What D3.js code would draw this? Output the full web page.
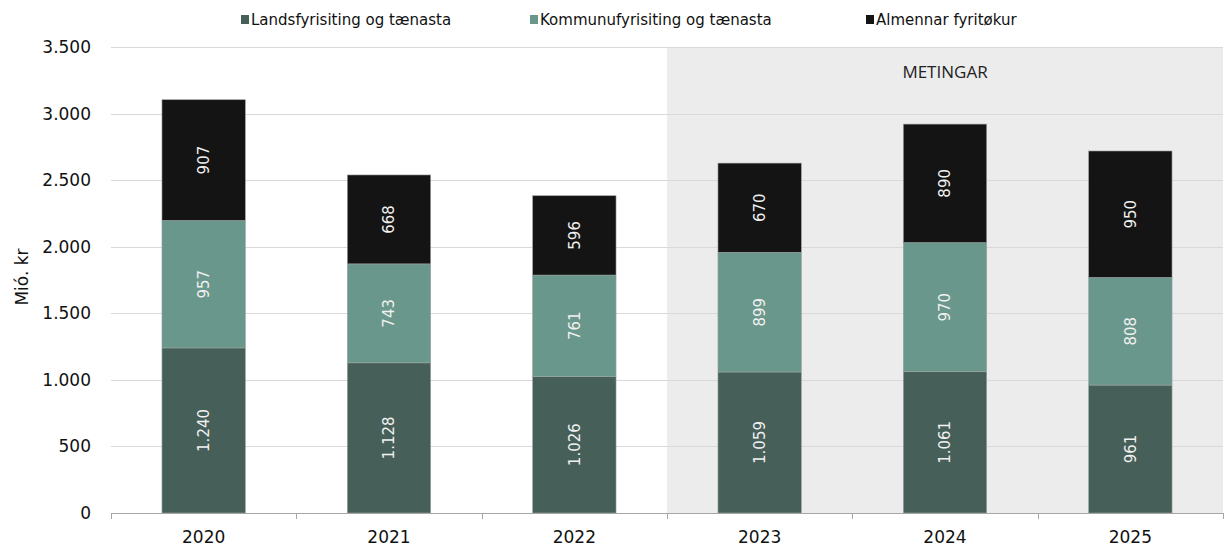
<!DOCTYPE html>
<html>
<head>
<meta charset="utf-8">
<script src="https://cdn.jsdelivr.net/npm/d3@7"></script>
<style>
  body { margin: 0; background: #fff; }
  svg { display: block; font-family: "DejaVu Sans", Verdana, sans-serif; }
</style>
</head>
<body>
<svg id="chart"></svg>
<script>
const years = ['2020', '2021', '2022', '2023', '2024', '2025'];
const seriesNames = ['Landsfyrisiting og tænasta', 'Kommunufyrisiting og tænasta', 'Almennar fyritøkur'];
const lands = [1240, 1128, 1026, 1059, 1061, 961];
const kommunu = [957, 743, 761, 899, 970, 808];
const almennar = [907, 668, 596, 670, 890, 950];
const yTicks = [0, 500, 1000, 1500, 2000, 2500, 3000, 3500];
const forecastYears = ['2023', '2024', '2025'];
const forecastLabel = 'METINGAR';

const colors = ['#465f59', '#6a978b', '#141414'];

const totalWidth = 1225, totalHeight = 546;
const margin = { top: 47, right: 2, bottom: 33, left: 111 };
const width = totalWidth - margin.left - margin.right;
const height = totalHeight - margin.top - margin.bottom;

const loc = d3.formatLocale({ decimal: ',', thousands: '.', grouping: [3], currency: ['', ''] });
const fmt = loc.format(',d');

const svg = d3.select('#chart')
    .attr('width', totalWidth)
    .attr('height', totalHeight);

const g = svg.append('g')
    .attr('transform', `translate(${margin.left},${margin.top})`);

const x = d3.scaleBand()
    .domain(years)
    .range([0, width])
    .paddingInner(0.55)
    .paddingOuter(0.275);

const step = x.step();

const y = d3.scaleLinear()
    .domain([0, 3500])
    .range([height, 0]);

// forecast shading
const shadeX = x(forecastYears[0]) - (step - x.bandwidth()) / 2;
g.append('rect')
    .attr('x', shadeX)
    .attr('y', 0)
    .attr('width', width - shadeX)
    .attr('height', height)
    .attr('fill', '#ececec');

g.append('text')
    .attr('x', shadeX + (width - shadeX) / 2)
    .attr('y', 31)
    .attr('text-anchor', 'middle')
    .attr('font-family', '"Open Sans", sans-serif')
    .attr('font-size', 17)
    .attr('fill', '#222')
    .text(forecastLabel);

// gridlines
g.append('g')
    .selectAll('line')
    .data(yTicks.filter(d => d > 0))
    .enter().append('line')
    .attr('x1', 0)
    .attr('x2', width)
    .attr('y1', d => Math.round(y(d)) + 0.5)
    .attr('y2', d => Math.round(y(d)) + 0.5)
    .attr('stroke', '#d9d9d9')
    .attr('stroke-width', 1);

// y axis labels
const yAxis = g.append('g')
    .call(d3.axisLeft(y).tickValues(yTicks).tickFormat(fmt).tickSize(0).tickPadding(20));
yAxis.select('.domain').remove();
yAxis.selectAll('text')
    .attr('font-family', '"DejaVu Sans", sans-serif')
    .attr('font-size', 17)
    .attr('fill', '#111');

// stacked data
const table = years.map((yr, i) => ({ year: yr, s0: lands[i], s1: kommunu[i], s2: almennar[i] }));
const stack = d3.stack().keys(['s0', 's1', 's2'])(table);

const layers = g.selectAll('.layer')
    .data(stack)
    .enter().append('g')
    .attr('class', 'layer')
    .attr('fill', (d, i) => colors[i]);

layers.selectAll('rect')
    .data(d => d)
    .enter().append('rect')
    .attr('x', d => x(d.data.year))
    .attr('y', d => y(d[1]))
    .attr('width', x.bandwidth())
    .attr('height', d => y(d[0]) - y(d[1]))
    .attr('stroke', '#9aa5a2')
    .attr('stroke-width', 0.6);

layers.selectAll('text')
    .data(d => d)
    .enter().append('text')
    .attr('transform', d => `translate(${x(d.data.year) + x.bandwidth() / 2},${(y(d[0]) + y(d[1])) / 2}) rotate(-90)`)
    .attr('text-anchor', 'middle')
    .attr('dy', '0.35em')
    .attr('font-size', 15)
    .attr('fill', '#f0f0f0')
    .text(d => fmt(d[1] - d[0]));

// x axis
const xAxis = g.append('g')
    .attr('transform', `translate(0,${height})`);
xAxis.append('line')
    .attr('x1', 0).attr('x2', width)
    .attr('y1', 0.5).attr('y2', 0.5)
    .attr('stroke', '#a6a6a6');
xAxis.selectAll('.tk')
    .data(d3.range(years.length + 1))
    .enter().append('line')
    .attr('x1', i => Math.round(i * step) + 0.5)
    .attr('x2', i => Math.round(i * step) + 0.5)
    .attr('y1', 0)
    .attr('y2', 6)
    .attr('stroke', '#a6a6a6');
xAxis.selectAll('.lbl')
    .data(years)
    .enter().append('text')
    .attr('x', d => x(d) + x.bandwidth() / 2)
    .attr('y', 30)
    .attr('text-anchor', 'middle')
    .attr('font-size', 17)
    .attr('fill', '#111')
    .text(d => d);

// y axis title
svg.append('text')
    .attr('transform', `translate(28,277) rotate(-90)`)
    .attr('text-anchor', 'middle')
    .attr('font-size', 17)
    .attr('fill', '#111')
    .text('Mió. kr');

// legend
const legendX = [241, 530, 866];
const legend = svg.append('g');
seriesNames.forEach((name, i) => {
    legend.append('rect')
        .attr('x', legendX[i])
        .attr('y', 15)
        .attr('width', 8)
        .attr('height', 9)
        .attr('fill', colors[i]);
    legend.append('text')
        .attr('x', legendX[i] + 10)
        .attr('y', 25)
        .attr('font-family', '"DejaVu Sans", sans-serif')
        .attr('font-size', 15)
        .attr('fill', '#111')
        .text(name);
});
</script>
</body>
</html>
